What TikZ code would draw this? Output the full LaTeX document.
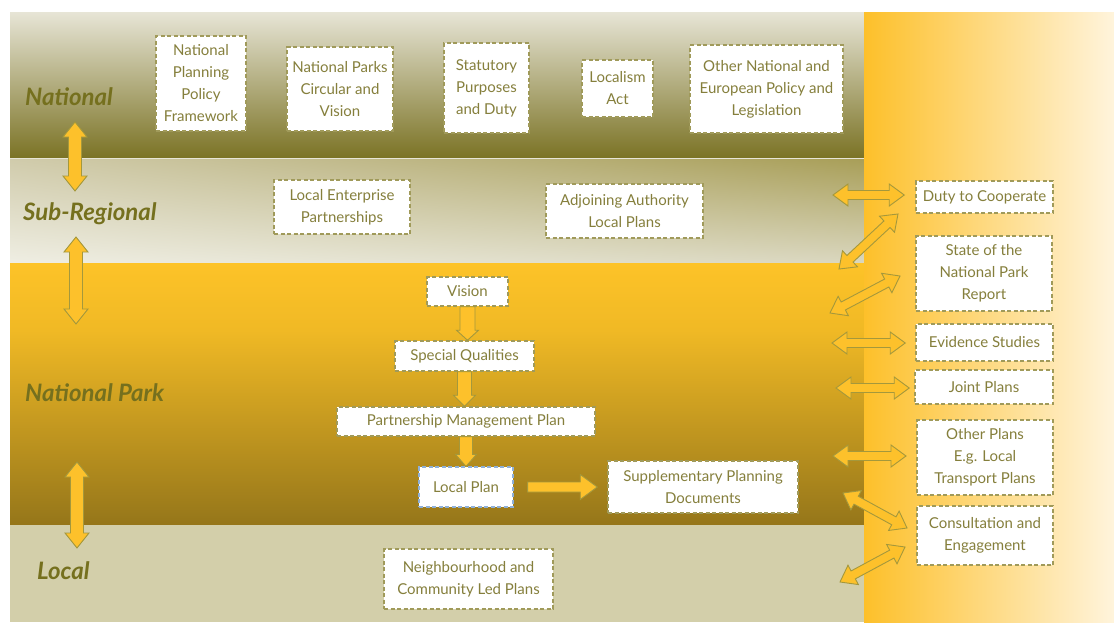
\documentclass[tikz,border=0pt]{standalone}
\usepackage{fontspec}
\setmainfont{Lato}
\usetikzlibrary{calc,shadings}
\definecolor{txt}{HTML}{857F3C}
\definecolor{lbl}{HTML}{75701E}
\definecolor{bord}{HTML}{A09A5A}
\definecolor{gold}{HTML}{FDC12B}
\definecolor{aline}{HTML}{A4983C}
\definecolor{natTop}{HTML}{E7E5D6}
\definecolor{natMid}{HTML}{C0BA90}
\definecolor{natBot}{HTML}{7B7325}
\definecolor{subUL}{HTML}{D0CBAB}
\definecolor{subUR}{HTML}{A89E57}
\definecolor{subLL}{HTML}{EFEEE3}
\definecolor{subLR}{HTML}{DAD7BF}
\definecolor{npA}{HTML}{FDC328}
\definecolor{npB}{HTML}{F0B925}
\definecolor{npC}{HTML}{C0981E}
\definecolor{npD}{HTML}{95761A}
\definecolor{localc}{HTML}{D3CFAA}
\definecolor{colL}{HTML}{FDC02A}
\definecolor{colR}{HTML}{FFF4DC}
\definecolor{lpblue}{HTML}{8FB0D8}
\tikzset{
  box/.style={draw=bord, dashed, dash pattern=on 4pt off 2.5pt, line width=1.5pt, fill=white,
    text=txt, inner sep=0pt, align=center, font=\fontsize{15}{22}\selectfont},
  lvl/.style={text=lbl, anchor=west, inner sep=0pt, font=\fontsize{24}{28}\selectfont\bfseries\itshape},
  blockarrow/.style={fill=gold, draw=aline, line width=0.9pt, line join=miter}
}
\newcommand\dblarr[5]{%
  \coordinate (ap) at ($(#1)!#5!(#2)$);
  \coordinate (aq) at ($(#2)!#5!(#1)$);
  \filldraw[blockarrow] (#1) -- ($(ap)!#4!90:(#2)$) -- ($(ap)!#3!90:(#2)$)
    -- ($(aq)!#3!-90:(#1)$) -- ($(aq)!#4!-90:(#1)$) -- (#2)
    -- ($(aq)!#4!90:(#1)$) -- ($(aq)!#3!90:(#1)$)
    -- ($(ap)!#3!-90:(#2)$) -- ($(ap)!#4!-90:(#2)$) -- cycle;}
\newcommand\sglarr[5]{%
  \coordinate (aq) at ($(#2)!#5!(#1)$);
  \filldraw[blockarrow] ($(#1)!#3!90:(#2)$) -- ($(aq)!#3!-90:(#1)$)
    -- ($(aq)!#4!-90:(#1)$) -- (#2) -- ($(aq)!#4!90:(#1)$)
    -- ($(aq)!#3!90:(#1)$) -- ($(#1)!#3!-90:(#2)$) -- cycle;}
\begin{document}
\begin{tikzpicture}[x=1pt,y=-1pt]
\useasboundingbox (0,0) rectangle (1114,622);
\fill[white] (0,0) rectangle (1114,622);
% bands
\shade[top color=natTop, middle color=natMid, bottom color=natBot] (10,12) rectangle (864,158);
\shade[upper left=subUL, upper right=subUR, lower left=subLL, lower right=subLR] (10,158) rectangle (864,263);
\draw[natTop, line width=1pt] (10,158.5) -- (864,158.5);
\shade[top color=npA, bottom color=npB] (10,263) rectangle (864,330);
\shade[top color=npB, middle color=npC, bottom color=npD] (10,330) rectangle (864,525.2);
\fill[localc] (10,525) rectangle (864,622);
\shade[left color=colL, right color=colR] (864,12) rectangle (1114,622);
% level labels
\node[lvl] (lnat) at (25,97) {National};
\node[lvl] (lsub) at (23,214) {Sub-Regional};
\node[lvl] (lnp) at (25,393) {National Park};
\node[lvl] (lloc) at (37,571) {Local};
% national boxes
\node[box, minimum width=90pt, minimum height=95pt] (nppf) at (201,83.5) {National\\Planning\\Policy\\Framework};
\node[box, minimum width=106pt, minimum height=84pt] (npcv) at (340,89) {National Parks\\Circular and\\Vision};
\node[box, minimum width=85pt, minimum height=90pt] (spdu) at (486.5,88) {Statutory\\Purposes\\and Duty};
\node[box, minimum width=71pt, minimum height=57pt] (loca) at (617.5,88.5) {Localism\\Act};
\node[box, minimum width=153pt, minimum height=88pt] (onep) at (766.5,89) {Other National and\\European Policy and\\Legislation};
% sub-regional boxes
\node[box, minimum width=136pt, minimum height=54pt] (lep) at (342,207) {Local Enterprise\\Partnerships};
\node[box, minimum width=157pt, minimum height=54pt] (aalp) at (624.5,211) {Adjoining Authority\\Local Plans};
% national park flow
\node[box, minimum width=81pt, minimum height=29pt] (vision) at (467.5,291.5) {Vision};
\node[box, minimum width=139pt, minimum height=30pt] (sq) at (464.5,356) {Special Qualities};
\node[box, minimum width=258pt, minimum height=29pt] (pmp) at (466,421.5) {Partnership Management Plan};
\node[box, draw=lpblue, line width=1.2pt, minimum width=94pt, minimum height=40pt] (lp) at (466,487) {Local Plan};
\node[box, minimum width=190pt, minimum height=52pt] (spdoc) at (703,487) {Supplementary Planning\\Documents};
% local
\node[box, minimum width=169pt, minimum height=60pt] (ncl) at (468.5,579) {Neighbourhood and\\Community Led Plans};
% right column boxes
\node[box, minimum width=137pt, minimum height=32pt] (dtc) at (984.5,197) {Duty to Cooperate};
\node[box, minimum width=136pt, minimum height=75pt] (sotnp) at (984,273.5) {State of the\\National Park\\Report};
\node[box, minimum width=137pt, minimum height=37pt] (evs) at (984.5,342.5) {Evidence Studies};
\node[box, minimum width=138pt, minimum height=34pt] (jp) at (984,387) {Joint Plans};
\node[box, minimum width=136pt, minimum height=75pt] (oplans) at (985,457.5) {Other Plans\\E.g. Local\\Transport Plans};
\node[box, minimum width=136pt, minimum height=59pt] (ce) at (985,535.5) {Consultation and\\Engagement};
% left level arrows
\coordinate (la1) at (75,122); \coordinate (lb1) at (75,191);
\coordinate (la2) at (76,237); \coordinate (lb2) at (76,324);
\coordinate (la3) at (77,462); \coordinate (lb3) at (77,548);
\dblarr{la1}{lb1}{6.5pt}{12pt}{15pt}
\dblarr{la2}{lb2}{6.5pt}{12pt}{15pt}
\dblarr{la3}{lb3}{6.5pt}{12pt}{15pt}
% flow arrows
\coordinate (f1a) at (vision.south); \coordinate (f1b) at (vision.south |- sq.north);
\coordinate (f2a) at (sq.south); \coordinate (f2b) at (sq.south |- pmp.north);
\coordinate (f3a) at (lp.north |- pmp.south); \coordinate (f3b) at (lp.north);
\coordinate (f4a) at ($(lp.east)+(14,0)$); \coordinate (f4b) at ($(spdoc.west)+(-10,0)$);
\sglarr{f1a}{f1b}{7.5pt}{11pt}{10pt}
\sglarr{f2a}{f2b}{7pt}{11pt}{11pt}
\sglarr{f3a}{f3b}{6.5pt}{10.5pt}{12pt}
\sglarr{f4a}{f4b}{5pt}{12.5pt}{17pt}
% right arrows
\coordinate (r1a) at (833,195); \coordinate (r1b) at ($(dtc.west)+(-11,-2)$);
\coordinate (r2a) at (839,269); \coordinate (r2b) at (898,214);
\coordinate (r3a) at (830,313); \coordinate (r3b) at (900,276);
\coordinate (r4a) at (832,343); \coordinate (r4b) at ($(evs.west)+(-10,0.5)$);
\coordinate (r5a) at (836,388); \coordinate (r5b) at ($(jp.west)+(-5,1)$);
\coordinate (r6a) at (833,456); \coordinate (r6b) at (906,456);
\coordinate (r7a) at (843,493); \coordinate (r7b) at (907,528);
\coordinate (r8a) at (840,582); \coordinate (r8b) at (905,547);
\dblarr{r1a}{r1b}{4.5pt}{11pt}{15pt}
\dblarr{r2a}{r2b}{4.5pt}{11pt}{15pt}
\dblarr{r3a}{r3b}{4.5pt}{11pt}{15pt}
\dblarr{r4a}{r4b}{4.5pt}{11pt}{15pt}
\dblarr{r5a}{r5b}{4.5pt}{11pt}{15pt}
\dblarr{r6a}{r6b}{4.5pt}{11pt}{15pt}
\dblarr{r7a}{r7b}{4.5pt}{11pt}{15pt}
\dblarr{r8a}{r8b}{4.5pt}{11pt}{15pt}
\end{tikzpicture}
\end{document}
